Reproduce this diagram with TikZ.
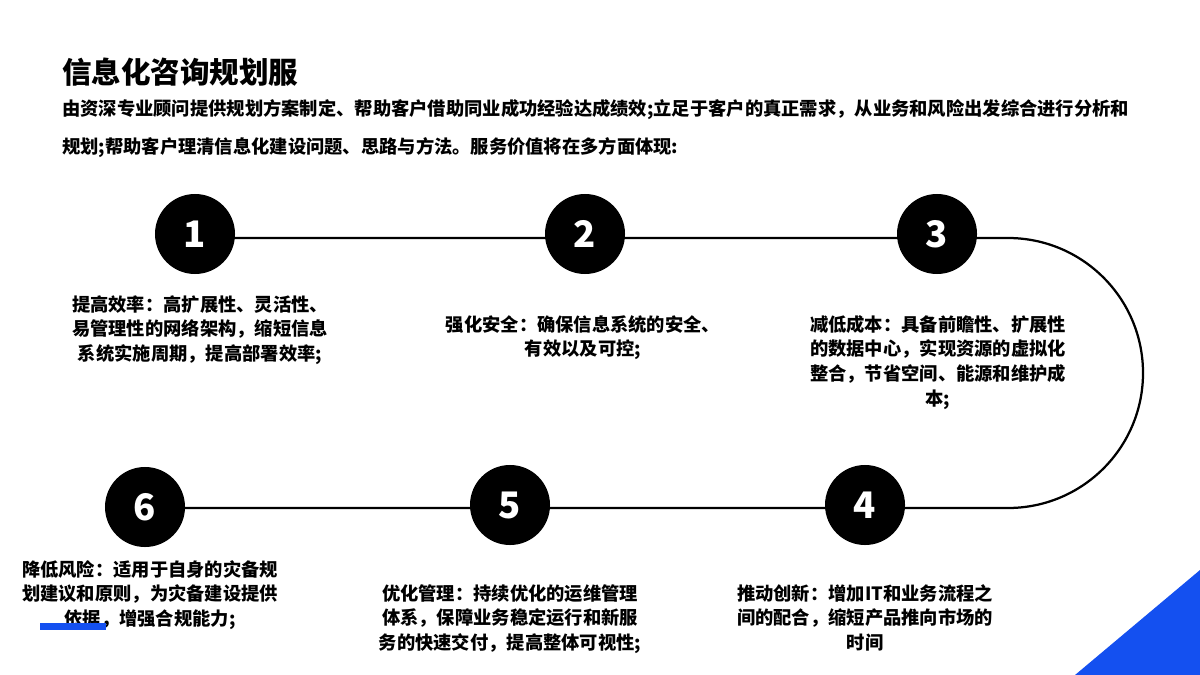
\documentclass[tikz,border=0pt]{standalone}
\usepackage{fontspec}
\setmainfont{Noto Sans CJK SC}
\usetikzlibrary{positioning}
\definecolor{stepblue}{RGB}{20,80,240}
\tikzset{
  numcircle/.style={circle, fill=black, minimum size=2cm, inner sep=0pt, text=white, font=\fontsize{26}{26}\selectfont\bfseries},
  desc/.style={align=center, font=\fontsize{13}{17.5}\selectfont\bfseries, inner sep=0pt, anchor=north},
}
\begin{document}
\begin{tikzpicture}[x=0.025cm, y=-0.025cm]
\useasboundingbox (0,0) rectangle (1200,675);
% heading and intro
\node[anchor=west, font=\fontsize{21}{24}\selectfont\bfseries, inner sep=0pt] (title) at (62,72) {信息化咨询规划服};
\node[anchor=west, font=\fontsize{13}{16}\selectfont\bfseries, inner sep=0pt] (introa) at (62,110) {由资深专业顾问提供规划方案制定、帮助客户借助同业成功经验达成绩效;立足于客户的真正需求，从业务和风险出发综合进行分析和};
\node[anchor=west, font=\fontsize{13}{16}\selectfont\bfseries, inner sep=0pt] (introb) at (62,148) {规划;帮助客户理清信息化建设问题、思路与方法。服务价值将在多方面体现:};
% track
\coordinate (turna) at (1008,238);
\draw[line width=1.6pt] (195,238) -- (turna) arc[start angle=-90, end angle=90, radius=135] -- (145,508);
% steps
\node[numcircle] (s1) at (195,234) {1};
\node[numcircle] (s2) at (585,234) {2};
\node[numcircle] (s3) at (937,234) {3};
\node[numcircle] (s4) at (865,505) {4};
\node[numcircle] (s5) at (510,505) {5};
\node[numcircle] (s6) at (145,507) {6};
% descriptions
\node[desc] (d1) at (200,295) {提高效率：高扩展性、灵活性、\\易管理性的网络架构，缩短信息\\系统实施周期，提高部署效率;};
\node[desc] (d2) at (583,315) {强化安全：确保信息系统的安全、\\有效以及可控;};
\node[desc] (d3) at (938,315) {减低成本：具备前瞻性、扩展性\\的数据中心，实现资源的虚拟化\\整合，节省空间、能源和维护成\\本;};
\node[desc] (d4) at (865,584) {推动创新：增加IT和业务流程之\\间的配合，缩短产品推向市场的\\时间};
\node[desc] (d5) at (510,584) {优化管理：持续优化的运维管理\\体系，保障业务稳定运行和新服\\务的快速交付，提高整体可视性;};
\node[desc] (d6) at (150,560) {降低风险：适用于自身的灾备规\\划建议和原则，为灾备建设提供\\依据，增强合规能力;};
% accents
\fill[stepblue] (40,623) rectangle (106,630);
\fill[stepblue] (1075,675) -- (1200,570) -- (1200,675) -- cycle;
\end{tikzpicture}
\end{document}
